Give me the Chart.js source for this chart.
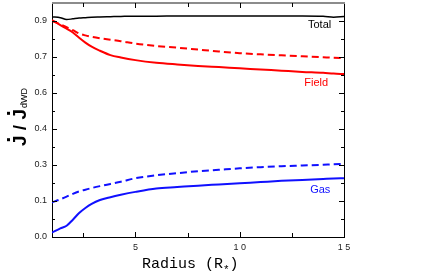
<!DOCTYPE html>
<html>
<head>
<meta charset="utf-8">
<script src="https://cdn.jsdelivr.net/npm/chart.js@4.4.0/dist/chart.umd.min.js"></script>
<style>
  body { margin: 0; background: #fff; }
  #wrap { width: 436px; height: 277px; }
</style>
</head>
<body>
<div id="wrap"><canvas id="myChart" width="436" height="277"></canvas></div>
<script>
// data
const radius     = [1, 1.4, 1.7, 2, 2.3, 2.6, 2.9, 3.3, 3.8, 4.3, 5, 6, 7, 8, 9, 10, 11, 12, 13, 14, 14.5, 15];
const total      = [0.917, 0.914, 0.906, 0.909, 0.912, 0.914, 0.916, 0.917, 0.918, 0.919, 0.92, 0.92, 0.921, 0.921, 0.921, 0.921, 0.921, 0.921, 0.921, 0.92, 0.916, 0.919];
const fieldTotal = [0.9, 0.886, 0.874, 0.862, 0.848, 0.84, 0.834, 0.828, 0.822, 0.816, 0.806, 0.796, 0.789, 0.781, 0.773, 0.766, 0.761, 0.757, 0.753, 0.749, 0.747, 0.746];
const field      = [0.904, 0.883, 0.868, 0.852, 0.83, 0.81, 0.793, 0.776, 0.758, 0.748, 0.737, 0.726, 0.719, 0.713, 0.708, 0.703, 0.698, 0.693, 0.688, 0.684, 0.681, 0.679];
const gasTotal   = [0.144, 0.157, 0.168, 0.18, 0.19, 0.197, 0.204, 0.212, 0.221, 0.23, 0.245, 0.257, 0.266, 0.274, 0.28, 0.286, 0.291, 0.295, 0.298, 0.301, 0.303, 0.304];
const gas        = [0.018, 0.036, 0.047, 0.072, 0.1, 0.121, 0.138, 0.154, 0.166, 0.176, 0.188, 0.202, 0.208, 0.214, 0.219, 0.224, 0.229, 0.234, 0.238, 0.242, 0.244, 0.245];

const yTickValues = [0, 0.15, 0.3, 0.45, 0.6, 0.75, 0.9];
const yTickLabels = ["0.0", "0.1", "0.3", "0.4", "0.6", "0.7", "0.9"];
const xTickValues = [5, 10, 15];
const xTickLabels = ["5", "1 0", "1 5"];
const curveNames  = ["Total", "Field", "Gas"];

function pts(ys) {
  return radius.map((r, i) => ({ x: r, y: ys[i] }));
}

function labelFor(values, labels, v) {
  const i = values.findIndex(t => Math.abs(t - v) < 1e-6);
  return i >= 0 ? labels[i] : "";
}

// frame, inward ticks, curve names and axis titles
const decor = {
  id: "decor",
  afterDraw(chart) {
    const c = chart.ctx;
    const a = chart.chartArea;
    const xs = chart.scales.x;
    const ys = chart.scales.y;
    c.save();

    // frame
    c.strokeStyle = "#000";
    c.lineWidth = 1;
    c.beginPath();
    c.moveTo(a.right + 0.5, a.top);
    c.lineTo(a.right + 0.5, a.bottom);
    c.stroke();
    c.strokeStyle = "#8c8c8c";
    c.lineWidth = 2;
    c.beginPath();
    c.moveTo(a.left, a.top);
    c.lineTo(a.right + 1, a.top);
    c.stroke();

    // tick marks pointing inside
    c.strokeStyle = "#000";
    c.lineWidth = 1;
    c.beginPath();
    for (let k = 0; k <= 12; k++) {
      const v = k * 0.075;
      const py = Math.round(ys.getPixelForValue(v)) + 0.5;
      const len = k % 2 === 0 ? 5 : 3;
      c.moveTo(a.left, py); c.lineTo(a.left + len, py);
      c.moveTo(a.right, py); c.lineTo(a.right - len, py);
    }
    for (let k = 1; k <= 5; k++) {
      const v = k * 2.5;
      const px = Math.round(xs.getPixelForValue(v)) + 0.5;
      const len = k % 2 === 0 ? 5 : 4;
      c.moveTo(px, a.bottom); c.lineTo(px, a.bottom - len);
      c.moveTo(px, a.top); c.lineTo(px, a.top + len);
    }
    c.stroke();

    // curve names
    const notes = [
      { x: 13.83, y: 0.883, color: "#000" },
      { x: 13.67, y: 0.640, color: "#ff0000" },
      { x: 13.86, y: 0.196, color: "#1010ff" }
    ];
    c.font = "11px 'Liberation Sans', Arial, sans-serif";
    c.textAlign = "center";
    c.textBaseline = "middle";
    notes.forEach((n, i) => {
      c.fillStyle = n.color;
      c.fillText(curveNames[i], xs.getPixelForValue(n.x), ys.getPixelForValue(n.y));
    });

    // x title: Radius (R*)
    c.fillStyle = "#000";
    c.textAlign = "left";
    c.textBaseline = "alphabetic";
    c.font = "15px 'Liberation Mono', 'Courier New', monospace";
    let tx = 142;
    c.fillText("Radius (R", tx, 268);
    tx += c.measureText("Radius (R").width;
    c.font = "11px 'Liberation Mono', 'Courier New', monospace";
    c.fillText("*", tx, 273);
    tx += c.measureText("*").width;
    c.font = "15px 'Liberation Mono', 'Courier New', monospace";
    c.fillText(")", tx, 268);

    // y title: J/J dWD (J with a dot), rotated
    c.translate(26, 117);
    c.rotate(-Math.PI / 2);
    const mainFont = "bold 19px 'Liberation Sans', Arial, sans-serif";
    const subFont = "9px 'Liberation Sans', Arial, sans-serif";
    c.font = mainFont;
    const wJ = c.measureText("J").width;
    const wS = c.measureText(" / ").width;
    c.font = subFont;
    const wD = c.measureText("dWD").width;
    let sx = -(2 * wJ + wS + wD + 1) / 2;
    c.font = mainFont;
    c.fillText("J", sx, 0);
    c.fillRect(sx + wJ / 2 - 0.5, -19, 3, 3);
    c.fillText(" / ", sx + wJ, 0);
    c.fillText("J", sx + wJ + wS, 0);
    c.fillRect(sx + wJ + wS + wJ / 2 - 0.5, -19, 3, 3);
    c.font = subFont;
    c.fillText("dWD", sx + 2 * wJ + wS + 1, 1);

    c.restore();
  }
};

const ctx = document.getElementById("myChart").getContext("2d");
new Chart(ctx, {
  type: "line",
  data: {
    datasets: [
      { data: pts(total), borderColor: "#000", borderWidth: 1.5 },
      { data: pts(fieldTotal), borderColor: "#ff0000", borderWidth: 2, borderDash: [7, 4] },
      { data: pts(field), borderColor: "#ff0000", borderWidth: 2 },
      { data: pts(gasTotal), borderColor: "#1010ff", borderWidth: 2, borderDash: [7, 4] },
      { data: pts(gas), borderColor: "#1010ff", borderWidth: 2 }
    ]
  },
  options: {
    responsive: false,
    animation: false,
    devicePixelRatio: 1,
    layout: { padding: { top: 3, right: 92, left: 0, bottom: 0 } },
    elements: {
      point: { radius: 0 },
      line: { tension: 0.3, fill: false, cubicInterpolationMode: "monotone" }
    },
    plugins: { legend: { display: false }, tooltip: { enabled: false } },
    scales: {
      x: {
        type: "linear",
        min: 1,
        max: 15,
        afterFit: s => { s.height = 40; s.paddingLeft = 0; s.paddingRight = 0; },
        grid: { display: false, drawTicks: false },
        border: { display: true, color: "#000", width: 1 },
        ticks: {
          stepSize: 2.5,
          autoSkip: false,
          maxRotation: 0,
          padding: 5,
          color: "#222",
          font: { family: "'Liberation Sans', Arial, sans-serif", size: 9 },
          callback: v => labelFor(xTickValues, xTickLabels, v)
        }
      },
      y: {
        type: "linear",
        min: 0,
        max: 0.975,
        afterFit: s => { s.width = 52; s.paddingTop = 0; s.paddingBottom = 0; },
        grid: { display: false, drawTicks: false },
        border: { display: true, color: "#000", width: 1 },
        ticks: {
          stepSize: 0.15,
          autoSkip: false,
          padding: 5,
          color: "#222",
          font: { family: "'Liberation Sans', Arial, sans-serif", size: 9 },
          callback: v => labelFor(yTickValues, yTickLabels, v)
        }
      }
    }
  },
  plugins: [decor]
});
</script>
</body>
</html>
